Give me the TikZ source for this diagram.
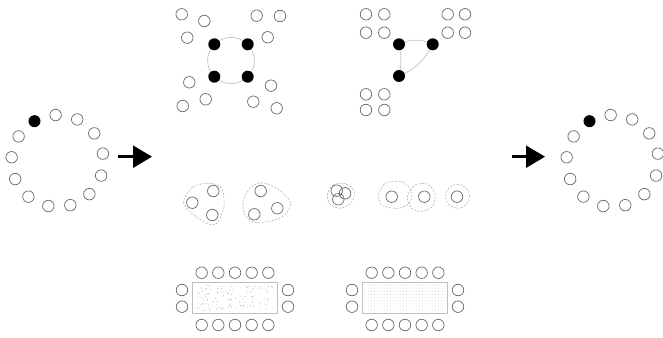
\documentclass[tikz,border=0pt]{standalone}
\usepackage{tikz}
\usetikzlibrary{arrows.meta,backgrounds}

\begin{document}
\begin{tikzpicture}[
    x=1pt, y=1pt,
    seat/.style={circle, draw=black!60, line width=0.7pt, minimum size=11.5pt, inner sep=0pt},
    guest/.style={circle, fill=black, minimum size=12pt, inner sep=0pt},
    link/.style={draw=black!22, line width=0.8pt},
    blob/.style={draw=black!30, dash pattern=on 2pt off 1.5pt, line width=0.6pt},
    tablebox/.style={draw=black!25, line width=0.6pt, minimum width=85pt, minimum height=31pt, inner sep=0pt},
    speck/.style={fill=black!35},
    dotgrid/.style={fill=black!22},
    bigarrow/.style={line width=2.4pt, -{Triangle[length=19pt,width=22pt]}}
]
\useasboundingbox (0,0) rectangle (663,337);

% before: one ring of people
\coordinate (inC) at (57.5,176);
\node[guest] (inhost) at ([shift={(120:46)}]inC) {};
\foreach \i in {1,...,12}
  \node[seat] (in\i) at ([shift={({120-\i*360/13}:46)}]inC) {};

\coordinate (arrAs) at (118,180.3);
\coordinate (arrAe) at (152,180.3);
\draw[bigarrow] (arrAs) -- (arrAe);

% top left: four hosts on a circle
\node[guest] (sqA) at (214.3,292.7) {};
\node[guest] (sqB) at (247.7,292.7) {};
\node[guest] (sqC) at (247.7,260.3) {};
\node[guest] (sqD) at (214.3,260.3) {};
\begin{scope}[on background layer]
\draw[link] (sqA.center) to[bend left=45] (sqB.center) to[bend left=45] (sqC.center)
            to[bend left=45] (sqD.center) to[bend left=45] (sqA.center);
\end{scope}
\foreach \p [count=\k] in {(181.7,322.7),(204.3,316),(187.3,299.3),
    (256.7,321.3),(280,321),(267.7,299.7),(189.3,254.7),(182.7,231),
    (205.7,237.7),(271,251.3),(253.3,235.3),(276.7,228.7)}
  \node[seat] (tl\k) at \p {};

% top right: three hosts
\node[guest] (triA) at (399,292.7) {};
\node[guest] (triB) at (432.7,292.7) {};
\node[guest] (triC) at (399,261) {};
\begin{scope}[on background layer]
\draw[link] (triA.center) to[bend left=25] (triB.center) to[bend left=20] (triC.center)
            to[bend right=12] (triA.center);
\end{scope}
\foreach \p [count=\k] in {(366,322.7),(384.3,322.7),(366,304.3),(384.3,304.3),
    (447.7,322.7),(465,322.7),(447.7,304.3),(465,304.3),
    (366,242.7),(384.3,242.7),(366,227),(384.3,227)}
  \node[seat] (tr\k) at \p {};

% middle: groups
\draw[blob] plot[smooth cycle] coordinates {(183.3,135.3) (193.3,150.3) (210,153.7)
    (221.7,148.7) (224,130.3) (216.7,113.7) (206.7,113.7) (191.7,123.7)};
\draw[blob] plot[smooth cycle] coordinates {(243.3,137) (251.7,150.3) (263.3,154.3)
    (280,146.3) (290.7,133.7) (281.7,119.7) (256.7,114.3) (245,122)};
\draw[blob] plot[smooth cycle] coordinates {(327.5,143) (333,152) (345,153.5)
    (354,146) (352,135) (340,128.7) (329.5,133.5)};
\draw[blob] plot[smooth cycle] coordinates {(378.3,140.3) (385,153.7) (401.7,155.3)
    (411.7,145.3) (409.3,133.7) (398.3,128.7) (383.3,131)};
\draw[blob] plot[smooth cycle] coordinates {(407.3,140.3) (415,151.7) (426.7,153)
    (435,143.7) (432.7,131) (421.7,125.3) (411.7,128.7)};
\draw[blob] (457.5,140.7) circle (12);

\node[seat] (gA1) at (213.3,146) {};
\node[seat] (gA2) at (192.3,134.3) {};
\node[seat] (gA3) at (212.3,122) {};
\node[seat] (gB1) at (260.7,146) {};
\node[seat] (gB2) at (254.3,122.7) {};
\node[seat] (gB3) at (277.3,128.7) {};
\node[seat] (gC1) at (336.7,146.3) {};
\node[seat] (gC2) at (345,143.7) {};
\node[seat] (gC3) at (338.3,137.7) {};
\node[seat] (gD) at (391.7,140.3) {};
\node[seat] (gE) at (424.3,140.3) {};
\node[seat] (gF) at (457,140.3) {};

% bottom: two tables
\foreach \tx/\tn in {235/tabA, 405/tabB} {
  \node[tablebox] (\tn) at (\tx,39.2) {};
  \foreach \k in {-2,...,2} {
    \node[seat] (\tn top\k) at ({\tx+\k*16.67},64.3) {};
    \node[seat] (\tn bot\k) at ({\tx+\k*16.67},12) {};
  }
  \foreach \sy in {47,30.3} {
    \node[seat] at ({\tx-53},\sy) {};
    \node[seat] at ({\tx+53},\sy) {};
  }
}
\pgfmathsetseed{7}
\foreach \k in {1,...,120}
  \fill[speck] ({195+80*rnd},{26+26*rnd}) circle (0.45);
\foreach \gx in {0,...,25}
  \foreach \gy in {0,...,8}
    \fill[dotgrid] ({365+3.2*\gx},{27+3.1*\gy}) circle (0.45);

% after: ring again
\coordinate (outC) at (612.5,176);
\node[guest] (outhost) at ([shift={(120:46)}]outC) {};
\foreach \i in {1,...,12}
  \node[seat] (out\i) at ([shift={({120-\i*360/13}:46)}]outC) {};

\coordinate (arrBs) at (511.7,180.3);
\coordinate (arrBe) at (545,180.3);
\draw[bigarrow] (arrBs) -- (arrBe);
\end{tikzpicture}
\end{document}
